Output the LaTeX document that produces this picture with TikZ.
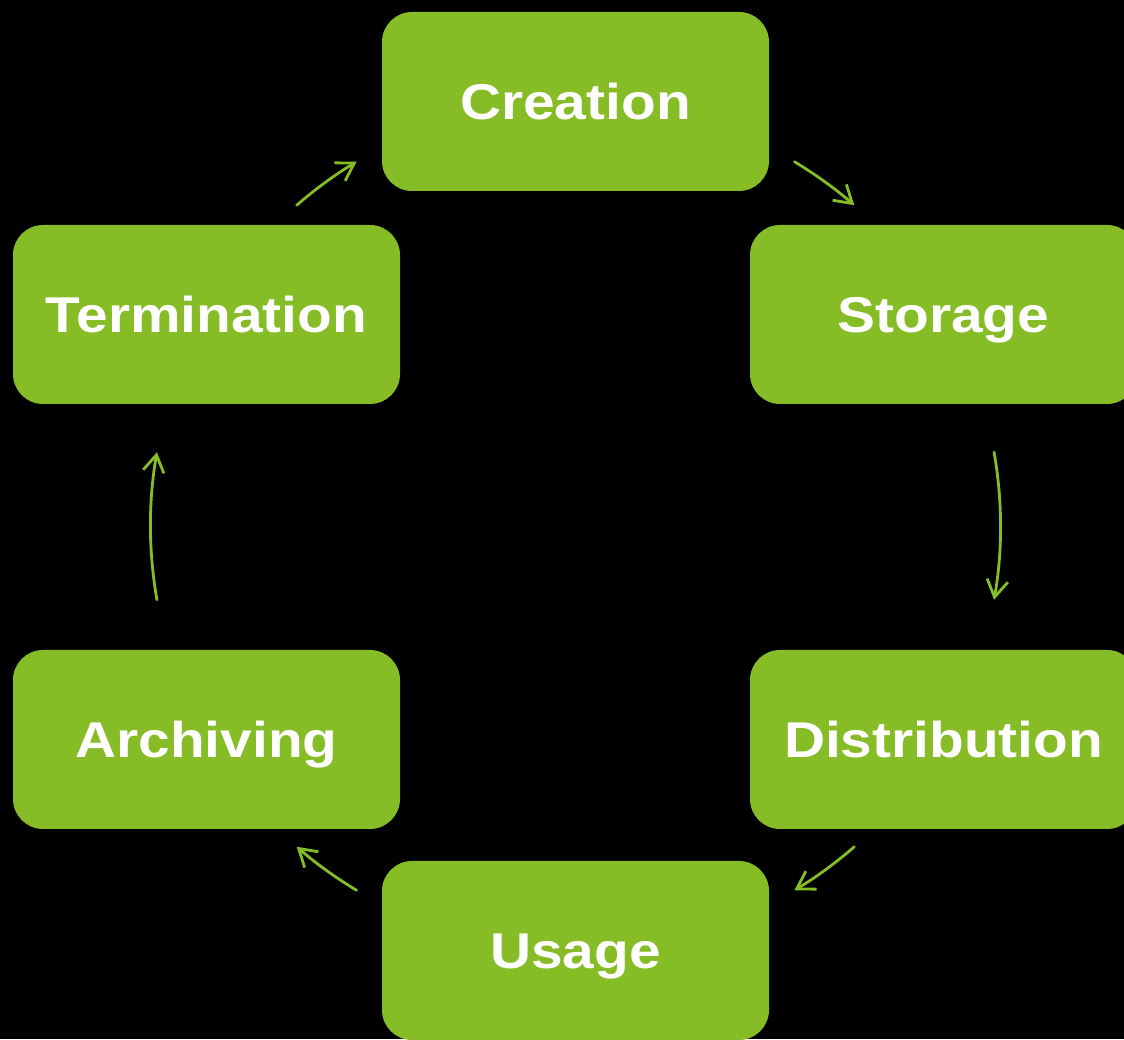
\documentclass[tikz,border=0pt]{standalone}
\usepackage{fontspec}
\setmainfont{Liberation Sans}
\newfontfamily\boxfont[FakeStretch=1.13]{Liberation Sans}
\usetikzlibrary{arrows.meta,calc}
\definecolor{lcgreen}{RGB}{134,188,37}
\tikzset{
  stagebox/.style={fill=lcgreen, rounded corners=30pt, minimum width=387pt, minimum height=179pt,
    inner sep=0pt, text=white, font=\boxfont\bfseries\fontsize{50.3}{60}\selectfont,
    text height=36pt, text depth=0pt},
  flow/.style={draw=lcgreen, line width=2.8pt, line cap=round,
    -{Straight Barb[length=17pt,width=21pt,line width=2.8pt]}}
}
\begin{document}
\begin{tikzpicture}[x=1pt,y=1pt]
\useasboundingbox (0,0) rectangle (1124,1039);
\clip (0,0) rectangle (1124,1039);
\fill[black] (0,0) rectangle (1124,1039);
\coordinate (c) at (575.5,513);
\node[stagebox] (creation) at (575.5,937.5) {Creation};
\node[stagebox] (termination) at (206.5,724.5) {Termination};
\node[stagebox] (storage) at (943.5,724.5) {Storage};
\node[stagebox] (archiving) at (206.5,299.5) {Archiving};
\node[stagebox] (distribution) at (943.5,299.5) {Distribution};
\node[stagebox] (usage) at (575.5,88.5) {Usage};
\coordinate (a1) at ($(c)+(131:425)$);
\coordinate (a2) at ($(c)+(59:425)$);
\coordinate (a3) at ($(c)+(10:425)$);
\coordinate (a4) at ($(c)+(-49:425)$);
\coordinate (a5) at ($(c)+(-121:425)$);
\coordinate (a6) at ($(c)+(190:425)$);
\draw[flow] (a1) arc[start angle=131, end angle=121, radius=425];
\draw[flow] (a2) arc[start angle=59, end angle=49, radius=425];
\draw[flow] (a3) arc[start angle=10, end angle=-10, radius=425];
\draw[flow] (a4) arc[start angle=-49, end angle=-59, radius=425];
\draw[flow] (a5) arc[start angle=-121, end angle=-131, radius=425];
\draw[flow] (a6) arc[start angle=190, end angle=170, radius=425];
\end{tikzpicture}
\end{document}
